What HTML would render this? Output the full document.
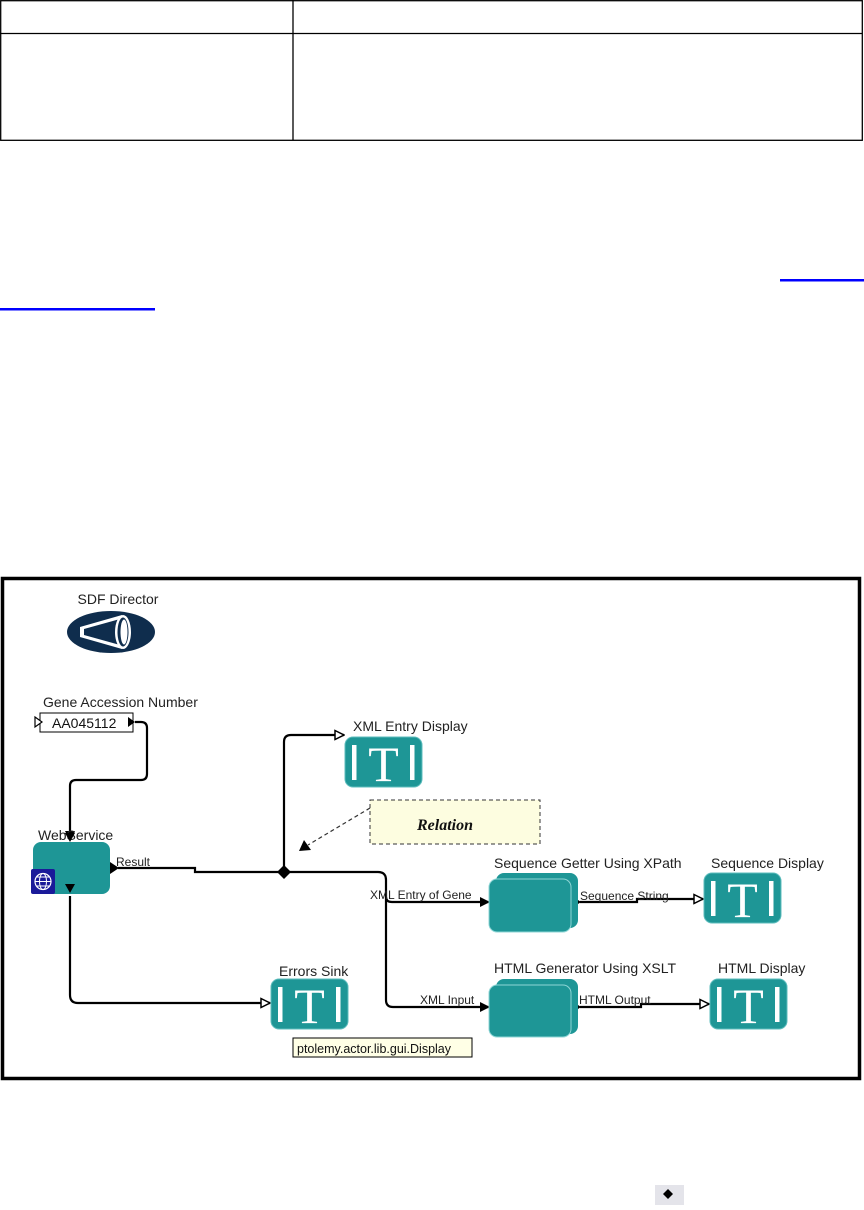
<!DOCTYPE html>
<html><head><meta charset="utf-8"><style>
html,body{margin:0;padding:0;background:#fff;}
body{width:864px;height:1210px;position:relative;overflow:hidden;font-family:"Liberation Sans",sans-serif;}
svg{position:absolute;left:0;top:0;}
</style></head><body>
<svg width="864" height="1210" viewBox="0 0 864 1210" xmlns="http://www.w3.org/2000/svg">
<defs>
<marker id="af" markerWidth="10" markerHeight="10" refX="9" refY="5" orient="auto" markerUnits="userSpaceOnUse"><path d="M0,0 L10,5 L0,10 z" fill="#000"/></marker>
<marker id="ao" markerWidth="11" markerHeight="11" refX="10" refY="5.5" orient="auto" markerUnits="userSpaceOnUse"><path d="M1,1 L10,5.5 L1,10 z" fill="#fff" stroke="#000" stroke-width="1.5"/></marker>
<g id="disp">
<rect x="0" y="0" width="77" height="50" rx="8" fill="#1e9696" stroke="#5cbcbc" stroke-width="1"/>
<rect x="7" y="8" width="4.5" height="35" fill="#fff"/>
<rect x="65" y="8" width="4.5" height="35" fill="#fff"/>
<text x="38.5" y="44" text-anchor="middle" font-family="Liberation Serif,serif" font-size="50" fill="#fff">T</text>
</g>
</defs>
<!-- table -->
<g stroke="#000" stroke-width="1.3" fill="none">
<rect x="0.7" y="0.7" width="861.6" height="139.6"/>
<line x1="0" y1="33.5" x2="862" y2="33.5"/>
<line x1="293" y1="0" x2="293" y2="140"/>
</g>
<rect x="780" y="279" width="84" height="2.5" fill="#0000ff"/>
<rect x="0" y="308" width="155" height="2.5" fill="#0000ff"/>
<!-- frame -->
<rect x="2.5" y="578.5" width="857" height="500" fill="#fff" stroke="#000" stroke-width="3.5"/>
<!-- director -->
<text x="118" y="604" text-anchor="middle" font-size="14" fill="#222">SDF Director</text>
<ellipse cx="111" cy="632" rx="44" ry="21" fill="#0f2d4d"/>
<path d="M80,627 L122,615 L122,649 L80,637 Z" fill="#fff"/>
<path d="M84,629 L120,619 L120,645 L84,635 Z" fill="#0f2d4d"/>
<ellipse cx="123" cy="632" rx="8" ry="17" fill="#fff"/>
<ellipse cx="123" cy="632" rx="5.5" ry="14.5" fill="#0f2d4d"/>
<ellipse cx="124" cy="632" rx="3.5" ry="12.5" fill="#fff"/>
<!-- gene accession -->
<text x="43" y="707" font-size="14" fill="#222">Gene Accession Number</text>
<rect x="40" y="713" width="93" height="19" fill="#fff" stroke="#000" stroke-width="1"/>
<text x="52" y="728" font-size="14" fill="#111">AA045112</text>
<path d="M35,717 L42,722 L35,727 z" fill="#fff" stroke="#000" stroke-width="1.2"/>
<path d="M128,717 L135,722 L128,727 z" fill="#000"/>
<!-- connectors -->
<g fill="none" stroke="#000" stroke-width="2.2">
<path d="M135,722 L141,722 Q147,722 147,728 L147,774 Q147,780 141,780 L76,780 Q70,780 70,786 L70,840" marker-end="url(#af)"/>
<path d="M70,896 L70,995 Q70,1003 78,1003 L270,1003" marker-end="url(#ao)"/>
<path d="M118,868 L195,868 L195,872 L284,872"/>
<path d="M284,872 L284,742 Q284,735 291,735 L344,735" marker-end="url(#ao)"/>
<path d="M284,872 L378,872 Q386,872 386,880 L386,897 Q386,902 392,902 L489,902" marker-end="url(#af)"/>
<path d="M386,897 L386,1000 Q386,1007 393,1007 L489,1007" marker-end="url(#af)"/>
<path d="M580,902 L637,902 L637,899 L703,899" marker-end="url(#ao)"/>
<path d="M580,1007 L641,1007 L641,1004 L709,1004" marker-end="url(#ao)"/>
</g>
<path d="M119,868 L110,862 L110,874 z" fill="#000"/>
<path d="M581,902 L572,896 L572,908 z" fill="#000"/>
<path d="M581,1007 L572,1001 L572,1013 z" fill="#000"/>
<path d="M284,865 L291,872 L284,879 L277,872 z" fill="#000"/>
<!-- webservice -->
<text x="38" y="840" font-size="14" fill="#222">WebService</text>
<rect x="33" y="842" width="77" height="52" rx="8" fill="#1e9696"/>
<rect x="31" y="869" width="24" height="25" rx="2" fill="#1a1a99"/>
<circle cx="43" cy="881.5" r="8" fill="none" stroke="#fff" stroke-width="1.2"/>
<ellipse cx="43" cy="881.5" rx="3.5" ry="8" fill="none" stroke="#fff" stroke-width="1"/>
<line x1="35" y1="881.5" x2="51" y2="881.5" stroke="#fff" stroke-width="1"/>
<line x1="36" y1="877" x2="50" y2="877" stroke="#fff" stroke-width="1"/>
<line x1="36" y1="886" x2="50" y2="886" stroke="#fff" stroke-width="1"/>
<path d="M70,893 L65,884 L75,884 z" fill="#000"/>
<path d="M70,842 L65,833 L75,833 z" fill="#000"/>
<text x="116" y="866" font-size="12" fill="#222">Result</text>
<!-- relation -->
<rect x="370" y="800" width="170" height="44" fill="#fdfde0" stroke="#333" stroke-width="1" stroke-dasharray="4,3"/>
<text x="445" y="830" text-anchor="middle" font-family="Liberation Serif,serif" font-weight="bold" font-style="italic" font-size="16" fill="#111">Relation</text>
<line x1="370" y1="808" x2="308" y2="845" stroke="#333" stroke-width="1.2" stroke-dasharray="4,3"/>
<path d="M299,851 L304,840 L311,850 z" fill="#000"/>
<!-- displays -->
<text x="353" y="731" font-size="14" fill="#222">XML Entry Display</text>
<use href="#disp" x="345" y="737"/>
<text x="279" y="976" font-size="14" fill="#222">Errors Sink</text>
<use href="#disp" x="271" y="979"/>
<text x="711" y="868" font-size="14" fill="#222">Sequence Display</text>
<use href="#disp" x="704" y="873"/>
<text x="718" y="973" font-size="14" fill="#222">HTML Display</text>
<use href="#disp" x="710" y="979"/>
<!-- composite actors -->
<text x="494" y="868" font-size="14" fill="#222">Sequence Getter Using XPath</text>
<rect x="496" y="873" width="82" height="55" rx="8" fill="#1e9696"/>
<rect x="489" y="879" width="82" height="53" rx="8" fill="#1e9696" stroke="#8fd6d6" stroke-width="1"/>
<text x="494" y="973" font-size="14" fill="#222">HTML Generator Using XSLT</text>
<rect x="496" y="979" width="82" height="55" rx="8" fill="#1e9696"/>
<rect x="489" y="985" width="82" height="52" rx="8" fill="#1e9696" stroke="#8fd6d6" stroke-width="1"/>
<text x="370" y="899" font-size="12" fill="#222">XML Entry of Gene</text>
<text x="580" y="900" font-size="12" fill="#222">Sequence String</text>
<text x="420" y="1004" font-size="12" fill="#222">XML Input</text>
<text x="579" y="1004" font-size="12" fill="#222">HTML Output</text>
<!-- tooltip -->
<rect x="293" y="1038" width="179" height="19" fill="#ffffe6" stroke="#000" stroke-width="1"/>
<text x="297" y="1053" font-size="12.5" fill="#111">ptolemy.actor.lib.gui.Display</text>
<!-- bottom icon -->
<rect x="655" y="1185" width="29" height="20" fill="#e4e4ea"/>
<path d="M668,1189 L673,1194 L668,1199 L663,1194 z" fill="#000"/>
</svg>
</body></html>
